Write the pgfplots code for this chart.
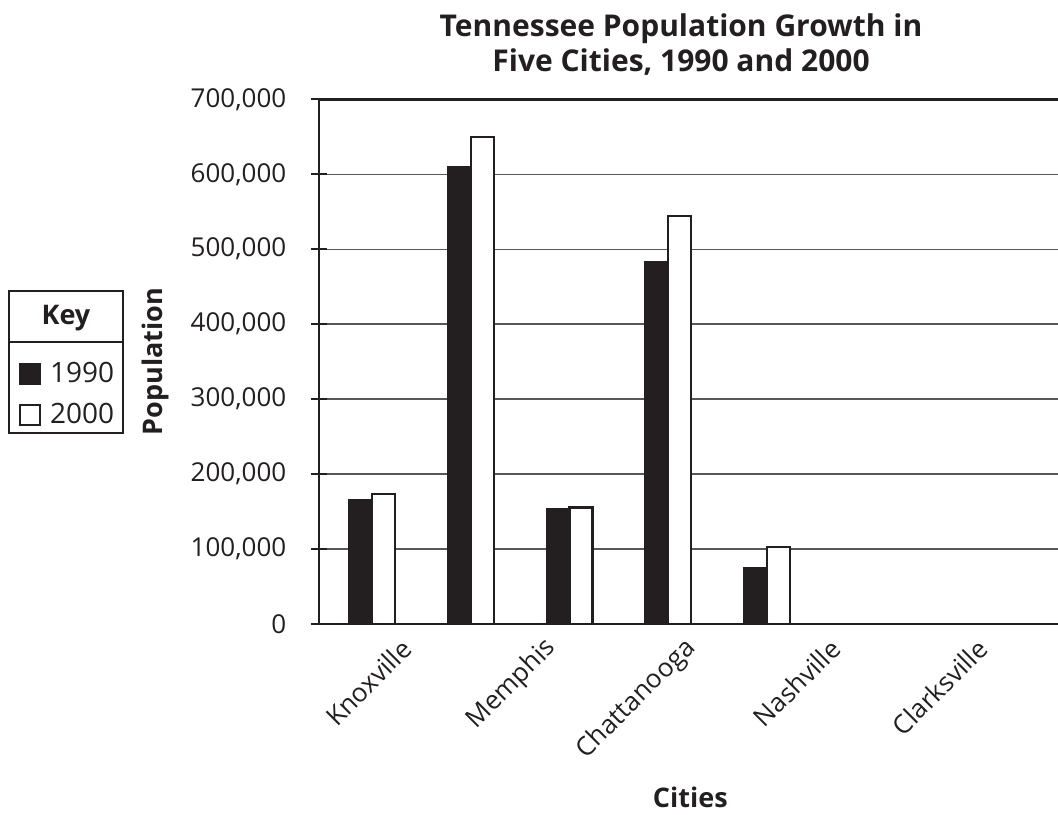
\documentclass[border=0pt]{standalone}
\usepackage{pgfplots}
\pgfplotsset{compat=1.18}
\usepackage{fontspec}
\setmainfont{Open Sans}
\definecolor{ink}{HTML}{231F20}
\begin{document}
\begin{tikzpicture}
\useasboundingbox (0,0) rectangle (529pt,407pt);
\begin{axis}[
  at={(159.35pt,95pt)}, anchor=south west,
  scale only axis, width=369.65pt, height=262.35pt,
  xmin=-0.540, xmax=6.947, ymin=0, ymax=700000,
  ybar=0pt, bar width=11.5pt,
  axis x line=bottom, axis y line=left,
  axis line style={-, ink, line width=1.1pt},
  xtick={0.354,1.822,3.240,4.698,6.187},
  xticklabels={Knoxville,Memphis,Chattanooga,Nashville,Clarksville},
  x tick style={draw=none},
  xticklabel style={yshift=-6pt, rotate=45, anchor=east, inner sep=0pt, font=\fontsize{13}{15}\selectfont, text=ink},
  ytick={0,100000,...,700000},
  tick align=center, major tick length=8pt,
  y tick style={ink, line width=1.1pt},
  scaled y ticks=false,
  /pgf/number format/assume math mode=true,
  yticklabel={\pgfmathprintnumber[fixed,1000 sep={,}]{\tick}},
  yticklabel style={font=\fontsize{13}{15}\selectfont, text=ink, inner sep=0pt, xshift=-12pt},
  ymajorgrids, grid style={ink!75, line width=0.7pt},
  ylabel={\textbf{Population}},
  ylabel style={at={(axis description cs:-0.2203,0.5)}, anchor=center, font=\fontsize{13.5}{15}\selectfont, text=ink},
  xlabel={\textbf{Cities}},
  xlabel style={at={(axis description cs:0.5027,-0.3307)}, anchor=center, inner sep=0pt, font=\fontsize{13.5}{15}\selectfont, text=ink},
  legend style={at={(axis description cs:-0.4054,0.507)}, anchor=north west, draw=none, fill=none, inner sep=0pt,
    font=\fontsize{14}{15}\selectfont, text=ink, row sep=5pt,
    /tikz/every odd column/.append style={column sep=2.5pt}},
  legend cell align=left,
  legend image code/.code={\draw[#1, line width=0.9pt] (0pt,-5pt) rectangle (10pt,5pt);},
  clip=false,
]
\addplot[fill=ink, draw=ink, line width=0.9pt] coordinates {(0,165000) (1,610000) (2,153000) (3,483000) (4,75500)};
\addlegendentry{1990}
\addplot[fill=white, draw=ink, line width=1.1pt] coordinates {(0,173500) (1,650000) (2,155500) (3,544000) (4,102500)};
\addlegendentry{2000}
\draw[ink, line width=1.3pt] (rel axis cs:0,1) -- (rel axis cs:1,1);
\end{axis}
% key box
\draw[ink, line width=1.1pt] (4.5pt,190.5pt) rectangle (61.5pt,261.5pt);
\draw[ink, line width=1.1pt] (4.5pt,236pt) -- (61.5pt,236pt);
\node[font=\fontsize{13.5}{15}\selectfont\bfseries, text=ink] at (33pt,248pt) {Key};
% title
\node[align=center, anchor=north, inner sep=0pt, font=\fontsize{15}{17.5}\selectfont\bfseries, text=ink] at (340.5pt,400.5pt) {Tennessee Population Growth in\\Five Cities, 1990 and 2000};
\end{tikzpicture}
\end{document}
